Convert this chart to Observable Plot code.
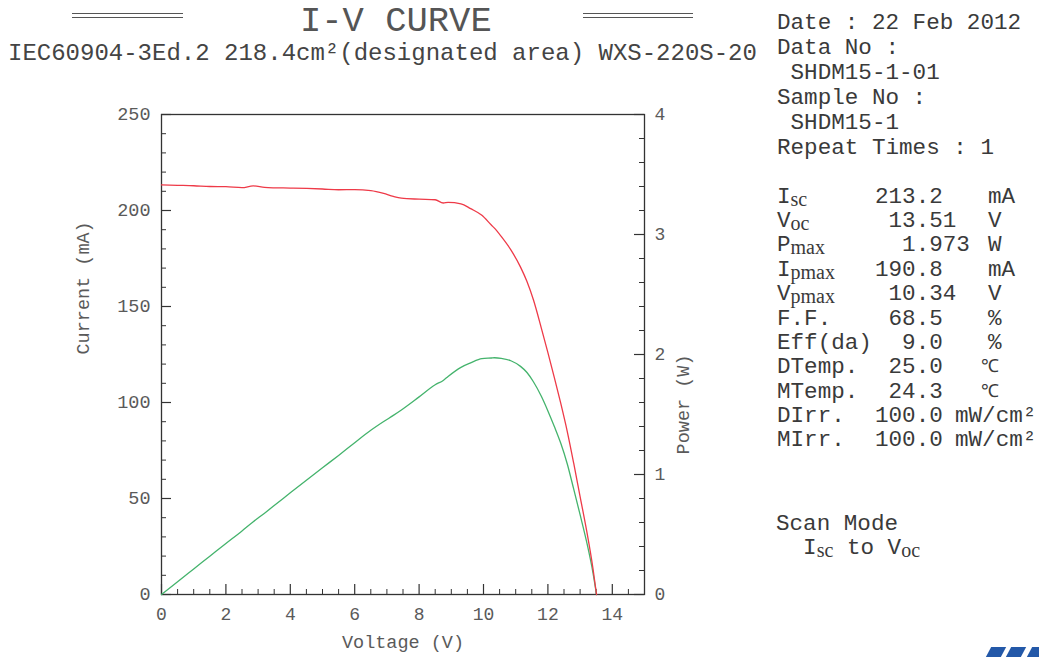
<!DOCTYPE html>
<html><head><meta charset="utf-8">
<script src="https://cdn.jsdelivr.net/npm/d3@7"></script>
<script src="https://cdn.jsdelivr.net/npm/@observablehq/plot@0.6"></script>
<style>
body{margin:0;background:#fff;width:1039px;height:657px;overflow:hidden;position:relative;font-family:"Liberation Mono","Courier New",monospace;color:#3a3a3a;}
.abs{position:absolute;white-space:pre;}
.dbl{position:absolute;height:3px;border-top:1.3px solid #555;border-bottom:1.3px solid #555;}
.sub{font-family:"Liberation Serif",serif;font-size:20px;line-height:1;position:relative;top:3px;}
.logo{position:absolute;background:#2358a8;transform:skewX(-28deg);}
</style></head><body>
<div class="dbl" style="left:72px;top:13px;width:111px"></div>
<div class="dbl" style="left:583px;top:13px;width:110px"></div>
<div id="title" class="abs" style="left:300px;top:1px;font-size:35.5px;line-height:42px;color:#555;"></div>
<div id="subtitle" class="abs" style="left:8px;top:39px;font-size:24px;line-height:30px;color:#444;"></div>
<div id="panel"></div>
<div id="chart" style="position:absolute;left:0;top:90px;"></div>
<div class="logo" style="left:988px;top:647px;width:15px;height:12px"></div>
<div class="logo" style="left:1008px;top:647px;width:15px;height:12px"></div>
<div class="logo" style="left:1029px;top:647px;width:15px;height:12px"></div>
<script>
// ---- data ----
const voltage = [0,0.5,1,1.5,2,2.5,2.85,3.2,3.5,4,4.5,5,5.5,6,6.5,6.9,7.2,7.45,8,8.5,8.75,8.9,9.3,9.6,9.95,10.25,10.34,10.55,10.85,11.15,11.35,11.55,11.8,12,12.2,12.4,12.6,12.8,13,13.2,13.4,13.51];
const current = [213.3,213.1,212.9,212.5,212.4,211.9,212.8,212.0,211.8,211.7,211.5,211.2,210.8,210.9,210.4,208.9,207.3,206.4,205.9,205.6,203.9,204.2,203.5,201.0,197.5,192.3,190.8,186.5,179.5,170.5,163.0,153.5,138.5,126.0,113.0,99.5,85.0,68.5,51.0,33.5,13.5,0];
const power = [0,0.107,0.213,0.319,0.425,0.530,0.606,0.678,0.741,0.847,0.952,1.056,1.159,1.265,1.368,1.441,1.493,1.538,1.647,1.748,1.784,1.817,1.893,1.930,1.965,1.971,1.973,1.968,1.948,1.901,1.850,1.773,1.650,1.530,1.400,1.260,1.090,0.880,0.665,0.442,0.181,0];

const xMajor = [0,2,4,6,8,10,12,14];
const yMajor = [0,50,100,150,200,250];
const pMajor = [0,1,2,3,4];
const xLabel = "Voltage (V)";
const yLabel = "Current (mA)";
const pLabel = "Power (W)";

const titleText = "I-V CURVE";
const subtitleText = "IEC60904-3Ed.2 218.4cm²(designated area) WXS-220S-20";
const infoLines = ["Date : 22 Feb 2012", "Data No :", " SHDM15-1-01", "Sample No :", " SHDM15-1", "Repeat Times : 1"];
const statSymbols = ["I","V","P","I","V","F.F.","Eff(da)","DTemp.","MTemp.","DIrr.","MIrr."];
const statSubs = ["sc","oc","max","pmax","pmax","","","","","",""];
const statValues = ["213.2"," 13.51","  1.973","190.8"," 10.34"," 68.5","  9.0"," 25.0"," 24.3","100.0","100.0"];
const statUnits = ["mA","V","W","mA","V","%","%","℃","℃","mW/cm²","mW/cm²"];
const scanLines = [["Scan Mode"], ["  I","sc"," to V","oc"]];

// ---- header / panel ----
document.getElementById("title").textContent = titleText;
document.getElementById("subtitle").textContent = subtitleText;

const panel = document.getElementById("panel");
function addDiv(html, left, top, size, lh){
  const d = document.createElement("div");
  d.className = "abs";
  d.style.left = left + "px"; d.style.top = top + "px";
  d.style.fontSize = (size||22.6) + "px"; d.style.lineHeight = (lh||25) + "px";
  d.innerHTML = html; panel.appendChild(d); return d;
}
infoLines.forEach((t,i) => addDiv(t, 777, 11 + i*25));
statSymbols.forEach((s,i) => {
  const top = 184.8 + i*24.34;
  addDiv(s + (statSubs[i] ? '<span class="sub">' + statSubs[i] + '</span>' : ''), 777, top, 22.6, 24);
  addDiv(statValues[i], 875, top, 22.6, 24);
  const u = statUnits[i];
  const left = u.startsWith("mW") ? 955 : (u === "℃" ? 981 : 988);
  addDiv(u, left, top, u === "℃" ? 18 : 22.6, 24);
});
scanLines.forEach((parts,i) => {
  const html = parts.map((p,j) => j % 2 === 1 ? '<span class="sub">' + p + '</span>' : p).join("");
  addDiv(html, 776, 512.5 + i*24.4, 22.6, 22);
});

// ---- chart ----
const data = voltage.map((v,i) => ({v, i: current[i], p: power[i]}));
const W = 720, H = 570, mL = 161, mR = 76, mT = 24, mB = 66;
const pw = W - mL - mR, ph = H - mT - mB;
const pScale = 250 / 4; // W -> mA scale for the right axis
const xMinor = d3.range(0, 15.01, 0.5).filter(d => !xMajor.includes(d));
const yMinor = d3.range(0, 250.1, 10).filter(d => !yMajor.includes(d));
const pMinor = d3.range(0, 4.01, 0.2).map(d => +d.toFixed(1)).filter(d => !pMajor.includes(d));
const axisColor = "#333", labColor = "#5a5a5a";

const chart = Plot.plot({
  width: W, height: H, marginLeft: mL, marginRight: mR, marginTop: mT, marginBottom: mB,
  x: {domain: [0, 15], axis: null},
  y: {domain: [0, 250], axis: null},
  style: {fontFamily: "Liberation Mono, Courier New, monospace", fontSize: "18px", background: "transparent", overflow: "visible"},
  marks: [
    // inward ticks
    Plot.ruleX(xMajor, {x: d => d, insetTop: ph - 10, stroke: axisColor, strokeWidth: 1.2}),
    Plot.ruleX(xMinor, {x: d => d, insetTop: ph - 5, stroke: axisColor, strokeWidth: 1}),
    Plot.ruleY(yMajor, {y: d => d, insetRight: pw - 10, stroke: axisColor, strokeWidth: 1.2}),
    Plot.ruleY(yMinor, {y: d => d, insetRight: pw - 5, stroke: axisColor, strokeWidth: 1}),
    Plot.ruleY(pMajor, {y: d => d * pScale, insetLeft: pw - 10, stroke: axisColor, strokeWidth: 1.2}),
    Plot.ruleY(pMinor, {y: d => d * pScale, insetLeft: pw - 5, stroke: axisColor, strokeWidth: 1}),
    Plot.frame({stroke: axisColor, strokeWidth: 1.3}),
    // tick labels
    Plot.text(xMajor, {x: d => d, frameAnchor: "bottom", dy: 25, text: d => String(d), fill: labColor, fontSize: 18}),
    Plot.text(yMajor, {y: d => d, frameAnchor: "left", dx: -11, textAnchor: "end", text: d => String(d), fill: labColor, fontSize: 18.5}),
    Plot.text(pMajor, {y: d => d * pScale, frameAnchor: "right", dx: 10, textAnchor: "start", text: d => String(d), fill: labColor, fontSize: 18}),
    // axis titles
    Plot.text([xLabel], {frameAnchor: "bottom", dy: 53, text: d => d, fill: labColor, fontSize: 18.5}),
    Plot.text([yLabel], {frameAnchor: "left", dx: -78, rotate: -90, text: d => d, fill: labColor, fontSize: 18.5}),
    Plot.text([pLabel], {frameAnchor: "right", dx: 39, rotate: -90, text: d => d, fill: labColor, fontSize: 18.5}),
    // curves
    Plot.line(data, {x: "v", y: d => d.p * pScale, stroke: "#44b36c", strokeWidth: 1.3, curve: "monotone-x"}),
    Plot.line(data, {x: "v", y: "i", stroke: "#ee3a48", strokeWidth: 1.3, curve: "monotone-x"})
  ]
});
document.getElementById("chart").appendChild(chart);
</script>
</body></html>
